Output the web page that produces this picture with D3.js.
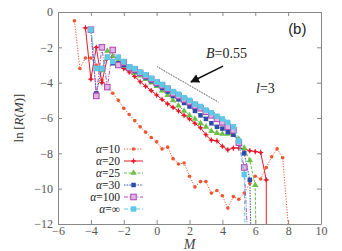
<!DOCTYPE html>
<html>
<head>
<meta charset="utf-8">
<script src="https://cdn.jsdelivr.net/npm/d3@7"></script>
<style>
body { margin: 0; background: #fff; }
svg text { font-family: "Liberation Serif", "DejaVu Serif", serif; }
.axis path, .axis line { stroke: #888; }
.axis text { fill: #555; font-size: 12px; font-family: "Liberation Serif", serif; }
</style>
</head>
<body>
<div id="chart"></div>
<script>
// data
var m10 = [-5.0,-4.67,-4.33,-4.0,-3.67,-3.33,-3.0,-2.67,-2.33,-2.0,-1.67,-1.33,-1.0,-0.67,-0.33,0,0.33,0.67,1.0,1.33,1.67,2.0,2.33,2.67,3.0,3.33,3.67,4.0,4.33,4.67,5.0,5.33,5.67,6.0,6.33,6.67,7.0,7.33,7.67,8.0];
var r10 = [-0.5,-3.2,-2.6,-2.6,-3.0,-3.85,-4.25,-4.6,-5.0,-5.45,-5.8,-6.15,-6.5,-6.8,-7.1,-7.35,-7.75,-7.65,-8.3,-8.6,-8.55,-9.3,-9.9,-9.6,-9.6,-10.25,-10.1,-10.4,-11.1,-10.45,-10.6,-10.25,-9.7,-9.3,-9.45,-8.8,-8.2,-7.75,-8.25,-12];

var m20 = [-4.33,-4.0,-3.67,-3.33,-3.0,-2.67,-2.33,-2.0,-1.67,-1.33,-1.0,-0.67,-0.33,0,0.33,0.67,1.0,1.33,1.67,2.0,2.33,2.67,3.0,3.33,3.67,4.0,4.33,4.67,5.0,5.33,5.67,6.0,6.33,6.67,6.67];
var r20 = [-0.9,-3.8,-2.0,-4.0,-2.6,-2.8,-3.0,-3.2,-3.4,-3.65,-3.95,-4.2,-4.45,-4.7,-4.95,-5.2,-5.4,-5.6,-5.85,-6.05,-6.3,-6.55,-6.95,-7.25,-7.3,-7.6,-7.8,-7.7,-7.7,-7.75,-7.85,-7.9,-7.95,-9.5,-12];

var m25 = [-3.33,-3.0,-2.67,-2.33,-2.0,-1.67,-1.33,-1.0,-0.67,-0.33,0,0.33,0.67,1.0,1.33,1.67,2.0,2.33,2.67,3.0,3.33,3.67,4.0,4.33,4.67,5.0,5.33,5.67,6.0,6.03];
var r25 = [-3.3,-2.2,-2.5,-2.8,-3.05,-3.25,-3.45,-3.6,-3.8,-4.0,-4.2,-4.45,-4.7,-5.0,-5.3,-5.6,-5.85,-6.05,-6.3,-6.5,-6.75,-6.85,-6.9,-6.9,-6.95,-7.2,-7.7,-8.4,-9.8,-12];

var m30 = [-4.0,-3.67,-3.33,-3.0,-2.67,-2.33,-2.0,-1.67,-1.33,-1.0,-0.67,-0.33,0,0.33,0.67,1.0,1.33,1.67,2.0,2.33,2.67,3.0,3.33,3.67,4.0,4.33,4.67,5.0,5.33,5.67,5.72];
var r30 = [-1.0,-4.6,-3.2,-2.55,-2.9,-2.9,-3.0,-3.2,-3.35,-3.5,-3.7,-3.9,-4.1,-4.3,-4.5,-4.75,-4.95,-5.15,-5.35,-5.6,-5.85,-6.05,-6.3,-6.5,-6.6,-6.8,-6.95,-7.4,-8.0,-9.5,-12];

var m100 = [-4.0,-3.67,-3.33,-3.0,-2.67,-2.33,-2.0,-1.67,-1.33,-1.0,-0.67,-0.33,0,0.33,0.67,1.0,1.33,1.67,2.0,2.33,2.67,3.0,3.33,3.67,4.0,4.33,4.67,5.0,5.33,5.5];
var r100 = [-1.0,-4.75,-2.0,-4.25,-2.15,-3.0,-2.85,-3.15,-3.25,-3.45,-3.6,-3.8,-4.0,-4.15,-4.35,-4.6,-4.75,-4.95,-5.1,-5.3,-5.45,-5.65,-5.85,-6.05,-6.25,-6.5,-6.7,-7.4,-8.8,-12];

var mInf = [-4.0,-3.67,-3.33,-3.0,-2.67,-2.33,-2.0,-1.67,-1.33,-1.0,-0.67,-0.33,0,0.33,0.67,1.0,1.33,1.67,2.0,2.33,2.67,3.0,3.33,3.67,4.0,4.33,4.67,5.0,5.33,5.37];
var rInf = [-1.0,-3.2,-3.2,-2.55,-2.8,-2.55,-2.8,-3.1,-3.2,-3.4,-3.55,-3.75,-3.95,-4.1,-4.3,-4.5,-4.65,-4.85,-5.0,-5.2,-5.35,-5.55,-5.7,-5.9,-6.05,-6.25,-6.5,-7.3,-9.2,-12];

var seriesNames = ["10", "20", "25", "30", "100", "\u221e"];
var xTicks = [-6,-4,-2,0,2,4,6,8,10];
var yTicks = [-12,-10,-8,-6,-4,-2,0];

// slope guide B=0.55 and its arrow, in data units
var guideM = [0.04, 3.76], guideR = [-3.1, -5.1];
var arrowM = [4.04, 2.09], arrowR = [-3.06, -3.96];

var W = 342, H = 251;
var margin = {top: 12, right: 21, bottom: 27, left: 58};
var width = W - margin.left - margin.right,
	height = H - margin.top - margin.bottom;

var svg = d3.select("#chart").append("svg")
	.attr("width", W)
	.attr("height", H)
	.append("g")
	.attr("transform", "translate(" + margin.left + "," + margin.top + ")");

svg.append("defs").append("clipPath")
	.attr("id", "clip")
	.append("rect")
	.attr("width", width)
	.attr("height", height);

var x = d3.scaleLinear().domain([-6, 10]).range([0, width]);
var y = d3.scaleLinear().domain([-12, 0]).range([height, 0]);

var minus = function(d) { return d < 0 ? "\u2212" + (-d) : d; };

// axes, ticks pointing inward
svg.append("g").attr("class", "axis")
	.attr("transform", "translate(0," + height + ")")
	.call(d3.axisBottom(x).tickValues(xTicks).tickSizeInner(-4).tickSizeOuter(0).tickPadding(2).tickFormat(minus));
svg.append("g").attr("class", "axis")
	.call(d3.axisLeft(y).tickValues(yTicks).tickSizeInner(-4).tickSizeOuter(0).tickPadding(5).tickFormat(minus));
svg.append("g").attr("class", "axis")
	.call(d3.axisTop(x).tickValues(xTicks).tickSizeInner(-4).tickSizeOuter(0).tickFormat(""));
svg.append("g").attr("class", "axis")
	.attr("transform", "translate(" + width + ",0)")
	.call(d3.axisRight(y).tickValues(yTicks).tickSizeInner(-4).tickSizeOuter(0).tickFormat(""));

var styles = [
	{m: m10, r: r10, color: "#f0552e", dash: "1.2,1.5", mark: "circle", size: 1.8},
	{m: m20, r: r20, color: "#e5192a", dash: null, mark: "plus", size: 2.6},
	{m: m25, r: r25, color: "#6cc04a", dash: "3,1.5", mark: "tri", size: 18},
	{m: m30, r: r30, color: "#2b4ca8", dash: "1.5,1.2", mark: "square", size: 4.5},
	{m: m100, r: r100, color: "#b24fb6", dash: "4,1.5,1,1.5", mark: "hsquare", size: 5.5},
	{m: mInf, r: rInf, color: "#5ec8e6", dash: "4,2", mark: "square", size: 5.5}
];

var line = d3.line()
	.x(function(d) { return x(d[0]); })
	.y(function(d) { return y(d[1]); });

function drawMark(g, s, cx, cy) {
	if (s.mark === "circle") {
		g.append("circle").attr("cx", cx).attr("cy", cy).attr("r", s.size).attr("fill", s.color);
	} else if (s.mark === "plus") {
		g.append("path").attr("d", "M" + (cx - s.size) + "," + cy + "h" + 2 * s.size + "M" + cx + "," + (cy - s.size) + "v" + 2 * s.size)
			.attr("stroke", s.color).attr("stroke-width", 1.1);
		g.append("circle").attr("cx", cx).attr("cy", cy).attr("r", 1.5).attr("fill", s.color);
	} else if (s.mark === "tri") {
		g.append("path").attr("d", d3.symbol().type(d3.symbolTriangle).size(s.size)())
			.attr("transform", "translate(" + cx + "," + cy + ")").attr("fill", s.color);
	} else if (s.mark === "square") {
		g.append("rect").attr("x", cx - s.size / 2).attr("y", cy - s.size / 2)
			.attr("width", s.size).attr("height", s.size).attr("fill", s.color);
	} else {
		g.append("rect").attr("x", cx - s.size / 2).attr("y", cy - s.size / 2)
			.attr("width", s.size).attr("height", s.size)
			.attr("fill", "#e2b6e4").attr("stroke", s.color).attr("stroke-width", 1.1);
	}
}

var plot = svg.append("g").attr("clip-path", "url(#clip)");

styles.forEach(function(s) {
	var pts = s.m.map(function(v, i) { return [v, s.r[i]]; });
	plot.append("path")
		.attr("d", line(pts))
		.attr("fill", "none")
		.attr("stroke", s.color)
		.attr("stroke-width", 1)
		.attr("stroke-dasharray", s.dash);
	var g = plot.append("g");
	pts.forEach(function(p) {
		if (p[1] > -11.9) drawMark(g, s, x(p[0]), y(p[1]));
	});
});

// slope guide and arrow
svg.append("line")
	.attr("x1", x(guideM[0])).attr("y1", y(guideR[0]))
	.attr("x2", x(guideM[1])).attr("y2", y(guideR[1]))
	.attr("stroke", "#333").attr("stroke-width", 1).attr("stroke-dasharray", "1,1");

svg.append("defs").append("marker")
	.attr("id", "head").attr("viewBox", "0 0 10 10")
	.attr("refX", 9).attr("refY", 5)
	.attr("markerWidth", 6).attr("markerHeight", 6)
	.attr("orient", "auto")
	.append("path").attr("d", "M0,0L10,5L0,10z").attr("fill", "#111");

svg.append("line")
	.attr("x1", x(arrowM[0])).attr("y1", y(arrowR[0]))
	.attr("x2", x(arrowM[1])).attr("y2", y(arrowR[1]))
	.attr("stroke", "#111").attr("stroke-width", 1.5)
	.attr("marker-end", "url(#head)");

var bText = svg.append("text")
	.attr("x", x(3.0)).attr("y", y(-2.6))
	.attr("font-size", "14px").attr("fill", "#222");
bText.append("tspan").attr("font-style", "italic").text("B");
bText.append("tspan").text("=0.55");

var lText = svg.append("text")
	.attr("x", x(6.05)).attr("y", y(-4.58))
	.attr("font-size", "14px").attr("fill", "#222");
lText.append("tspan").attr("font-style", "italic").text("l");
lText.append("tspan").text("=3");

svg.append("text")
	.attr("x", x(8.0)).attr("y", y(-1.25))
	.attr("font-size", "15px")
	.style("font-family", "'Liberation Sans', Arial, sans-serif")
	.attr("fill", "#222")
	.text("(b)");

// axis titles
svg.append("text")
	.attr("x", width / 2).attr("y", height + 25)
	.attr("text-anchor", "middle")
	.attr("font-size", "14px").attr("fill", "#444")
	.attr("font-style", "italic")
	.text("M");

var yt = svg.append("text")
	.attr("transform", "translate(-35," + height / 2 + ") rotate(-90)")
	.attr("text-anchor", "middle")
	.attr("font-size", "13px").attr("fill", "#333");
yt.append("tspan").text("ln\u2009[");
yt.append("tspan").attr("font-style", "italic").text("R");
yt.append("tspan").text("(");
yt.append("tspan").attr("font-style", "italic").text("M");
yt.append("tspan").text(")]");

// legend
var legend = svg.append("g").attr("transform", "translate(" + (120 - margin.left) + "," + (149 - margin.top) + ")");
styles.forEach(function(s, i) {
	var row = legend.append("g").attr("transform", "translate(0," + i * 12 + ")");
	var t = row.append("text")
		.attr("x", 0).attr("y", 4)
		.attr("text-anchor", "end")
		.attr("font-size", "11.5px").attr("fill", "#222");
	t.append("tspan").attr("font-style", "italic").text("\u03b1");
	t.append("tspan").text("=" + seriesNames[i]);
	row.append("line")
		.attr("x1", 4).attr("x2", 23).attr("y1", 0).attr("y2", 0)
		.attr("stroke", s.color).attr("stroke-width", 1)
		.attr("stroke-dasharray", s.dash);
	drawMark(row, s, 13.5, 0);
});
</script>
</body>
</html>
